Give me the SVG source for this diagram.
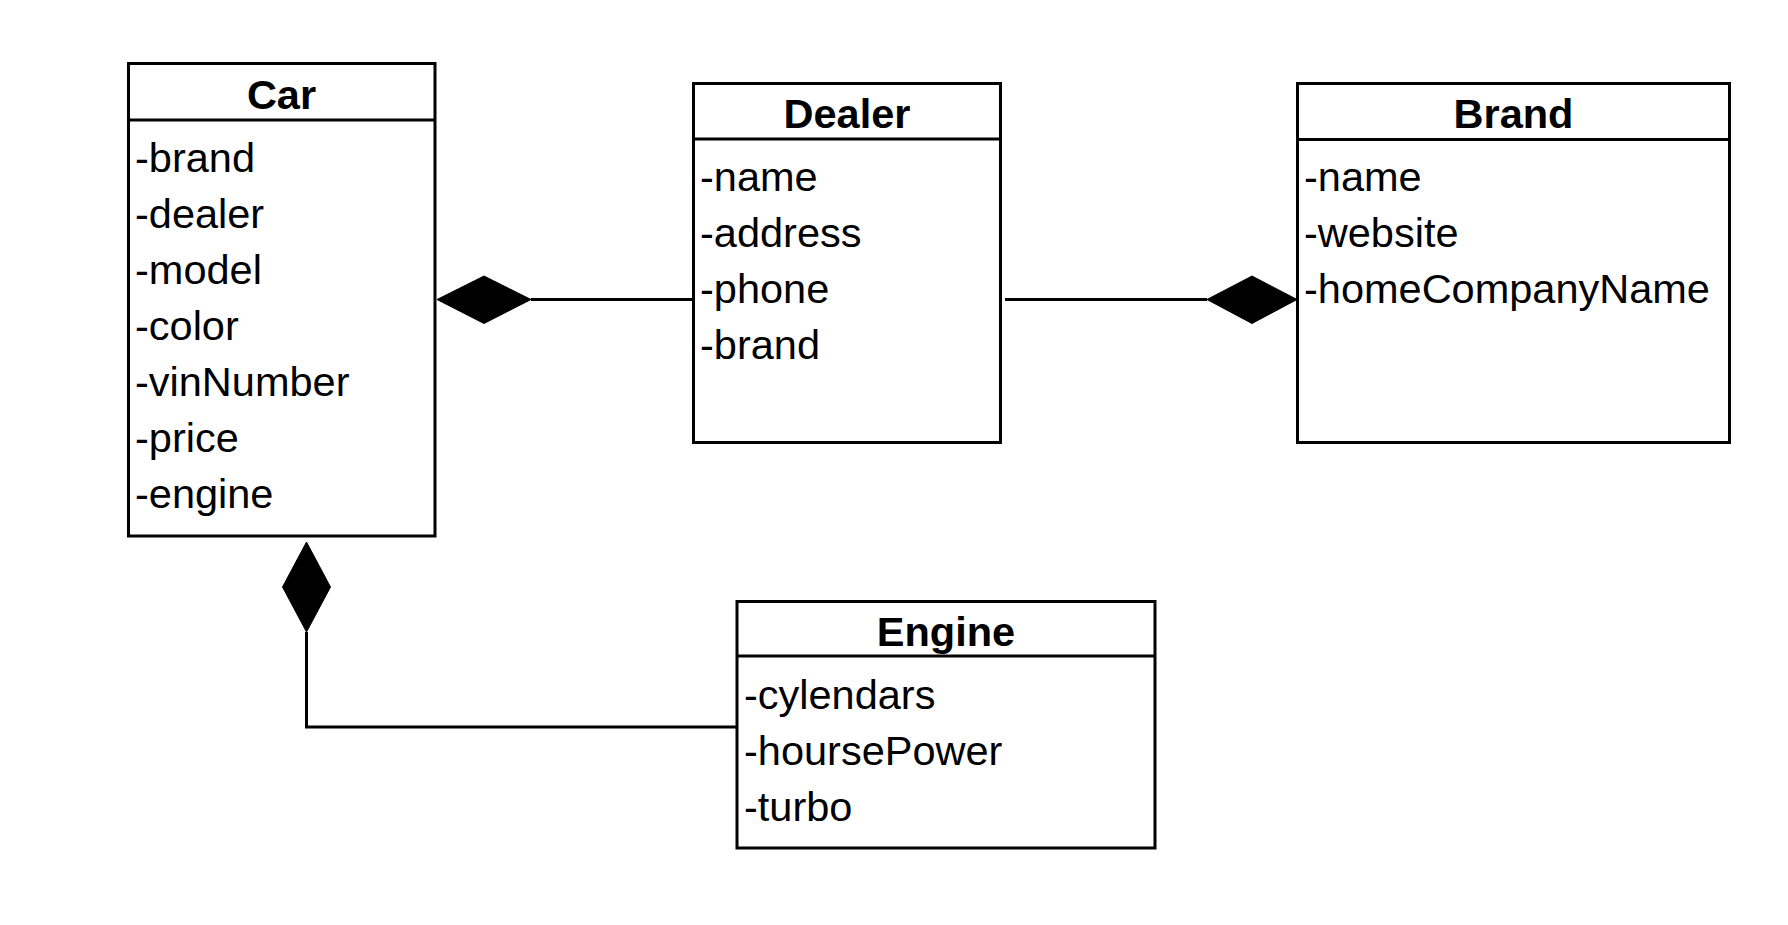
<svg xmlns="http://www.w3.org/2000/svg" width="1788" height="925" viewBox="0 0 1788 925">
<style>
.box{fill:#fff;stroke:#000;stroke-width:3}
.sep{stroke:#000;stroke-width:3}
.title{font-family:"Liberation Sans",Arial,sans-serif;font-size:41.5px;font-weight:bold;text-anchor:middle;fill:#000}
.attr{font-family:"Liberation Sans",Arial,sans-serif;font-size:41.5px;fill:#000}
.conn{fill:none;stroke:#000;stroke-width:3}
.dia{fill:#000;stroke:#000;stroke-width:1}
</style>
<rect width="1788" height="925" fill="#fff"/>
<g id="connectors">
  <polygon class="dia" points="437,299.5 484,276 531,299.5 484,323.5"/>
  <line class="conn" x1="531" y1="299.5" x2="693" y2="299.5"/>
  <line class="conn" x1="1005" y1="299.5" x2="1207" y2="299.5"/>
  <polygon class="dia" points="1207,299.5 1252,276 1297,299.5 1252,323.5"/>
  <polygon class="dia" points="306.5,542 330.5,587 306.5,632 282.5,587"/>
  <polyline class="conn" points="306.5,632 306.5,727 737,727"/>
</g>
<g id="car">
  <rect class="box" x="128.5" y="63.5" width="306.5" height="472.5"/>
  <line class="sep" x1="128.5" y1="120" x2="435" y2="120"/>
  <text class="title" x="281.5" y="108.5">Car</text>
  <text class="attr" x="135" y="172">-brand</text>
  <text class="attr" x="135" y="228">-dealer</text>
  <text class="attr" x="135" y="284">-model</text>
  <text class="attr" x="135" y="340">-color</text>
  <text class="attr" x="135" y="396">-vinNumber</text>
  <text class="attr" x="135" y="452">-price</text>
  <text class="attr" x="135" y="508">-engine</text>
</g>
<g id="dealer">
  <rect class="box" x="693.5" y="83.5" width="307" height="359"/>
  <line class="sep" x1="693.5" y1="139" x2="1000.5" y2="139"/>
  <text class="title" x="847" y="128">Dealer</text>
  <text class="attr" x="700" y="191">-name</text>
  <text class="attr" x="700" y="247">-address</text>
  <text class="attr" x="700" y="303">-phone</text>
  <text class="attr" x="700" y="359">-brand</text>
</g>
<g id="brand">
  <rect class="box" x="1297.5" y="83.5" width="432" height="359"/>
  <line class="sep" x1="1297.5" y1="139.5" x2="1729.5" y2="139.5"/>
  <text class="title" x="1513.5" y="128">Brand</text>
  <text class="attr" x="1304" y="191">-name</text>
  <text class="attr" x="1304" y="247">-website</text>
  <text class="attr" x="1304" y="303">-homeCompanyName</text>
</g>
<g id="engine">
  <rect class="box" x="737" y="601.5" width="418" height="246.5"/>
  <line class="sep" x1="737" y1="656" x2="1155" y2="656"/>
  <text class="title" x="946" y="645.5">Engine</text>
  <text class="attr" x="744" y="709">-cylendars</text>
  <text class="attr" x="744" y="765">-hoursePower</text>
  <text class="attr" x="744" y="821">-turbo</text>
</g>
</svg>
